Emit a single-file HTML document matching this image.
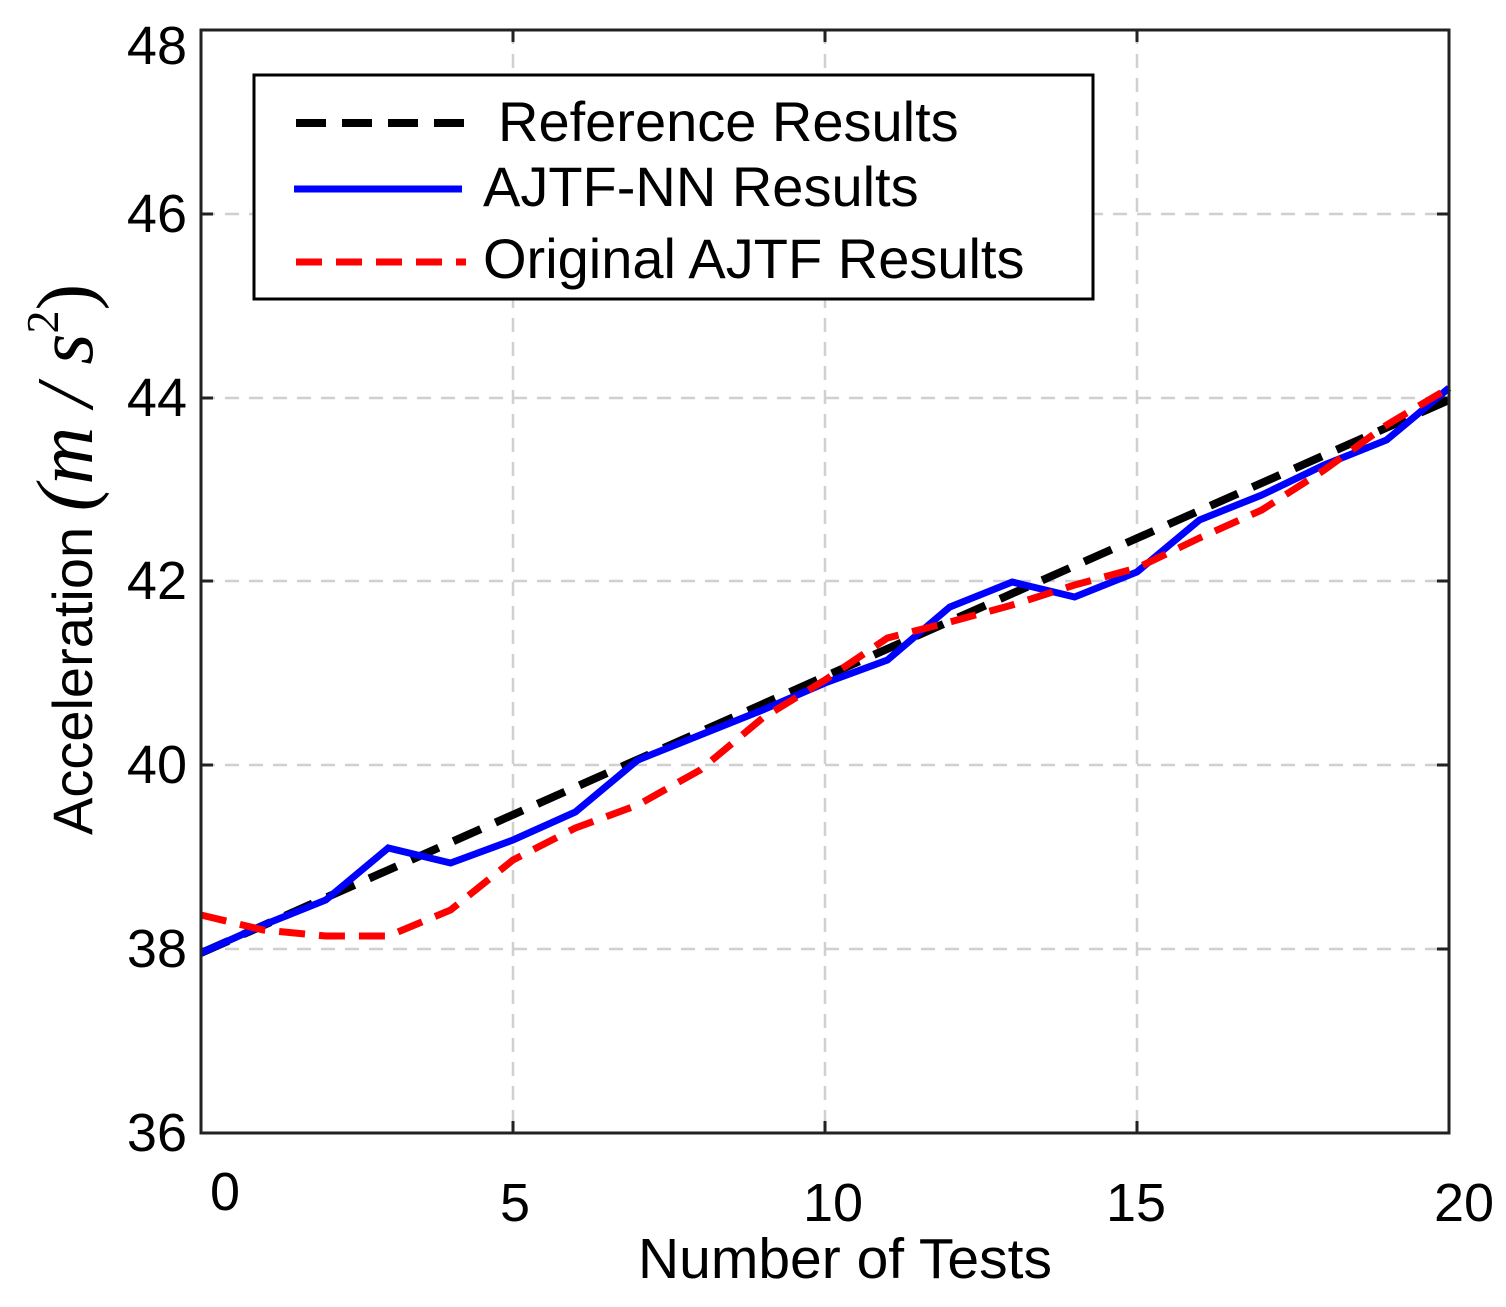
<!DOCTYPE html>
<html><head><meta charset="utf-8"><style>html,body{margin:0;padding:0;background:#fff}</style></head><body>
<svg width="1506" height="1302" viewBox="0 0 1506 1302" xmlns="http://www.w3.org/2000/svg" font-family="Liberation Sans, Arial, sans-serif">
<rect width="1506" height="1302" fill="#fff"/>
<g stroke="#d0d0d0" stroke-width="2.5" stroke-dasharray="14,10">
<line x1="513" y1="30" x2="513" y2="1133"/><line x1="825" y1="30" x2="825" y2="1133"/><line x1="1137" y1="30" x2="1137" y2="1133"/>
<line x1="201" y1="214" x2="1449" y2="214"/><line x1="201" y1="398" x2="1449" y2="398"/><line x1="201" y1="581" x2="1449" y2="581"/><line x1="201" y1="765" x2="1449" y2="765"/><line x1="201" y1="949" x2="1449" y2="949"/>
</g>
<g stroke="#222" stroke-width="3">
<line x1="513" y1="1133" x2="513" y2="1121"/><line x1="825" y1="1133" x2="825" y2="1121"/><line x1="1137" y1="1133" x2="1137" y2="1121"/>
<line x1="513" y1="30" x2="513" y2="42"/><line x1="825" y1="30" x2="825" y2="42"/><line x1="1137" y1="30" x2="1137" y2="42"/>
<line x1="201" y1="214" x2="213" y2="214"/><line x1="201" y1="398" x2="213" y2="398"/><line x1="201" y1="581" x2="213" y2="581"/><line x1="201" y1="765" x2="213" y2="765"/><line x1="201" y1="949" x2="213" y2="949"/>
<line x1="1449" y1="214" x2="1437" y2="214"/><line x1="1449" y1="398" x2="1437" y2="398"/><line x1="1449" y1="581" x2="1437" y2="581"/><line x1="1449" y1="765" x2="1437" y2="765"/><line x1="1449" y1="949" x2="1437" y2="949"/>
</g>
<line x1="201" y1="953" x2="1449" y2="400" stroke="#000" stroke-width="8" stroke-dasharray="30,16"/>
<polyline fill="none" stroke="#0000ff" stroke-width="7" points="201,953 263.4,925 325.8,900 388.2,848 450.6,863 513,840 575.4,812 637.8,760 700.2,735 762.6,710 825,683 887.4,660 949.8,607 1012.2,582 1074.6,597 1137,572 1199.4,520 1261.8,495 1324.2,465 1386.6,440 1449,388"/>
<polyline fill="none" stroke="#ff0000" stroke-width="7" stroke-dasharray="26,14" points="201,915 263.4,930 325.8,936 388.2,936 450.6,910 513,860 575.4,828 637.8,805 700.2,770 762.6,718 825,680 887.4,638 949.8,622 1012.2,605 1074.6,585 1137,568 1199.4,538 1261.8,510 1324.2,470 1386.6,425 1449,388"/>
<rect x="201" y="30" width="1248" height="1103" fill="none" stroke="#222" stroke-width="3"/>
<rect x="254" y="75" width="839" height="224" fill="#fff" stroke="#000" stroke-width="3"/>
<line x1="296" y1="123" x2="466" y2="123" stroke="#000" stroke-width="8" stroke-dasharray="30,16"/>
<line x1="294" y1="189" x2="462" y2="189" stroke="#0000ff" stroke-width="7"/>
<line x1="296" y1="262" x2="466" y2="262" stroke="#ff0000" stroke-width="7" stroke-dasharray="26,14"/>
<g font-size="56" fill="#000">
<text x="498" y="141">Reference Results</text>
<text x="483" y="206">AJTF-NN Results</text>
<text x="483" y="278">Original AJTF Results</text>
</g>
<g font-size="54" fill="#000" text-anchor="end">
<text x="187" y="64">48</text><text x="187" y="232">46</text><text x="187" y="416">44</text><text x="187" y="599">42</text><text x="187" y="783">40</text><text x="187" y="967">38</text><text x="187" y="1151">36</text>
</g>
<g font-size="54" fill="#000" text-anchor="middle">
<text x="225" y="1210">0</text><text x="515" y="1221">5</text><text x="833" y="1221">10</text><text x="1136" y="1221">15</text><text x="1464" y="1221">20</text>
</g>
<text x="845" y="1278" font-size="57" text-anchor="middle">Number of Tests</text>
<g transform="translate(92,835) rotate(-90)">
<text x="0" y="0" font-size="56">Acceleration <tspan font-family="Liberation Serif, serif" font-style="italic" font-size="80">(m / s</tspan><tspan font-family="Liberation Serif, serif" font-size="46" dy="-34">2</tspan><tspan font-family="Liberation Serif, serif" font-size="80" dy="34">)</tspan></text>
</g>
</svg>
</body></html>
